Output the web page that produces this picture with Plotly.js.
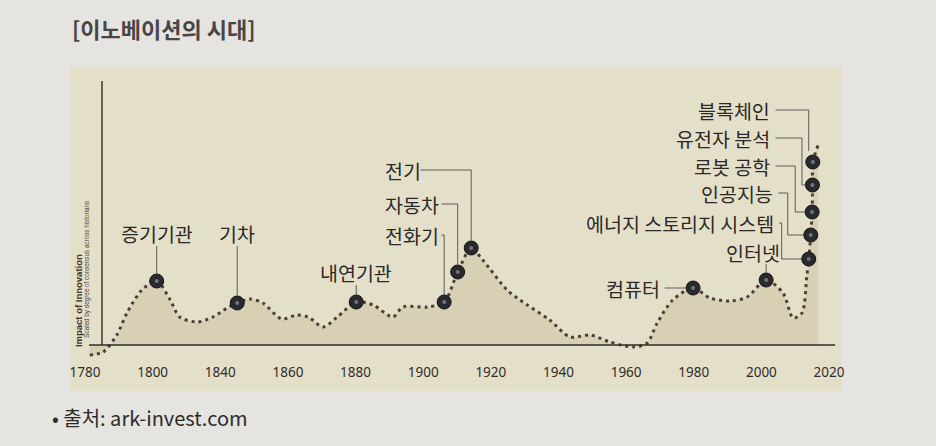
<!DOCTYPE html>
<html>
<head>
<meta charset="utf-8">
<script src="https://cdn.plot.ly/plotly-3.0.1.min.js"></script>
<style>html,body{margin:0;padding:0;background:#e5e4e0;}#chart{width:936px;height:446px;}</style>
</head>
<body>
<div id="chart"></div>
<script>
// Tick labels (evenly spaced as printed)
const tickLabels = ['1780','1800','1840','1860','1880','1900','1920','1940','1960','1980','2000','2020'];
const tickPositions = tickLabels.map((_, i) => i);

// Impact-of-innovation curve (x in tick-slot units, y in relative impact)
const curveX = [0.07,0.27,0.47,0.62,0.84,1.06,1.26,1.40,1.66,1.89,2.10,2.25,2.44,2.63,2.91,3.13,3.30,3.52,3.73,4.01,4.26,4.55,4.70,5.06,5.31,5.51,5.71,5.88,6.24,6.43,6.87,7.17,7.47,7.76,8.10,8.31,8.46,8.69,8.99,9.24,9.54,9.79,10.07,10.32,10.47,10.60,10.67,10.70,10.73,10.75,10.755,10.76,10.84];
const curveY = [-10,-7,10,32,55,64,45,28,23,28,37,42,46,42,26,30,28,18,28,43,40,28,38,38,43,73,97,85,55,45,25,8,10,3,-2,2,22,45,57,47,44,48,65,52,27,32,68,86,110,133,160,183,200];

// Innovations marked on the curve
const innovations = ['증기기관','기차','내연기관','전화기','자동차','전기','컴퓨터','인터넷','에너지 스토리지 시스템','인공지능','로봇 공학','유전자 분석','블록체인'];
const innoX = [1.06,2.25,4.01,5.31,5.51,5.71,8.99,10.07,10.70,10.73,10.75,10.755,10.76];
const innoY = [64,42,43,43,73,97,57,65,86,110,133,160,183];

// label placement (layout only)
const labelLayout = [
  {mode:'above', ty:112, top:99},
  {mode:'above', ty:112, top:99},
  {mode:'above', ty:73, top:60},
  {mode:'elbowL', tx:4.406, ty:110, lx:5.27},
  {mode:'elbowL', tx:4.406, ty:141, lx:5.27},
  {mode:'elbowL', tx:4.406, ty:175, lx:4.96},
  {mode:'left', tx:8.53, ty:57},
  {mode:'aboveR', tx:10.30, ty:93, top:81},
  {mode:'elbowR', tx:10.21, ty:122, vx:10.30},
  {mode:'elbowR', tx:10.20, ty:152, vx:10.39},
  {mode:'elbowR', tx:10.16, ty:179, vx:10.50},
  {mode:'elbowR', tx:10.16, ty:207, vx:10.60},
  {mode:'elbowR', tx:10.16, ty:235, vx:10.70}
];

const lineCol = '#5f5b58';
const textFont = {family:'Noto Sans CJK KR, Noto Sans, sans-serif', size:19.5, color:'#2b2928'};
const annotations = [];
const shapes = [];

// panel background
shapes.push({type:'rect', xref:'paper', yref:'paper', x0:0.0125, x1:0.9775, y0:-0.11, y1:0.9765, fillcolor:'#e4dfc8', line:{width:0}, layer:'below'});
// axes lines
shapes.push({type:'line', xref:'x', yref:'y', x0:0.059, x1:11.09, y0:0, y1:0, line:{color:'#2f2d2b', width:1.6}});
shapes.push({type:'line', xref:'x', yref:'y', x0:0.251, x1:0.251, y0:0, y1:264, line:{color:'#2f2d2b', width:1.4}});

const mr = 7; // marker radius in y-units (px)
const mrx = 7/67.64;
innovations.forEach((name, i) => {
  const L = labelLayout[i];
  const x = innoX[i], y = innoY[i];
  if (L.mode === 'above') {
    annotations.push({x:x, y:L.ty, text:name, showarrow:false, xanchor:'center', yanchor:'middle', font:textFont});
    shapes.push({type:'line', x0:x, x1:x, y0:L.top, y1:y+mr, line:{color:lineCol, width:1}});
  } else if (L.mode === 'aboveR') {
    annotations.push({x:L.tx, y:L.ty, text:name, showarrow:false, xanchor:'right', yanchor:'middle', font:textFont});
    shapes.push({type:'line', x0:x, x1:x, y0:L.top, y1:y+mr, line:{color:lineCol, width:1}});
  } else if (L.mode === 'elbowL') {
    annotations.push({x:L.tx, y:L.ty, text:name, showarrow:false, xanchor:'left', yanchor:'middle', font:textFont});
    shapes.push({type:'path', path:`M ${L.lx},${L.ty} L ${x},${L.ty} L ${x},${y+mr}`, line:{color:lineCol, width:1}});
  } else if (L.mode === 'left') {
    annotations.push({x:L.tx, y:L.ty, text:name, showarrow:false, xanchor:'right', yanchor:'middle', font:textFont});
    shapes.push({type:'line', x0:L.tx+0.04, x1:x-mrx, y0:y, y1:y, line:{color:lineCol, width:1}});
  } else if (L.mode === 'elbowR') {
    annotations.push({x:L.tx, y:L.ty, text:name, showarrow:false, xanchor:'right', yanchor:'middle', font:textFont});
    const sx = L.tx + 0.05;
    if (i === innovations.length - 1) {
      shapes.push({type:'path', path:`M ${sx},${L.ty} L ${L.vx},${L.ty} L ${L.vx},${y+mr+4}`, line:{color:lineCol, width:1}});
    } else {
      shapes.push({type:'path', path:`M ${sx},${L.ty} L ${L.vx},${L.ty} L ${L.vx},${y} L ${x-mrx},${y}`, line:{color:lineCol, width:1}});
    }
  }
});

// source and axis captions
annotations.push({xref:'paper', yref:'paper', x:-0.0125, y:-0.198, xanchor:'left', yanchor:'middle', showarrow:false, text:'• 출처: ark-invest.com', font:{family:'Noto Sans CJK KR, sans-serif', size:20, color:'#2d2b2a'}});
annotations.push({xref:'paper', yref:'paper', x:0.0225, y:0.191, xanchor:'center', yanchor:'middle', showarrow:false, textangle:-90, text:'<b>Impact of Innovation</b>', font:{family:'Liberation Sans, sans-serif', size:9.5, color:'#3a3633'}});
annotations.push({xref:'paper', yref:'paper', x:0.0335, y:0.299, xanchor:'center', yanchor:'middle', showarrow:false, textangle:-90, text:'Scaled by degree of consensus across historians', font:{family:'Liberation Sans, sans-serif', size:6.3, color:'#4a4643'}});

const traces = [
  {x:curveX, y:curveY, mode:'lines', line:{shape:'spline', smoothing:0.8, color:'#4a3f36', width:3, dash:'3px,4px'}, fill:'tozeroy', fillcolor:'rgba(168,156,112,0.22)', hoverinfo:'skip'},
  {x:innoX, y:innoY, mode:'markers', marker:{size:14, color:'#2a2a2c', line:{color:'#141414', width:1}}, cliponaxis:false, hoverinfo:'skip'},
  {x:innoX, y:innoY, mode:'markers', marker:{size:4, color:'#6d7580'}, cliponaxis:false, hoverinfo:'skip'}
];

const layout = {
  width:936, height:446,
  margin:{l:60, r:76, t:60, b:88},
  paper_bgcolor:'#e5e4e0', plot_bgcolor:'rgba(0,0,0,0)',
  showlegend:false,
  title:{text:'[이노베이션의 시대]', xref:'container', yref:'container', x:72/936, xanchor:'left', y:1-30/446, yanchor:'middle', font:{family:'Noto Sans CJK KR, sans-serif', size:22, color:'#4a4646', weight:'bold'}},
  xaxis:{range:[-0.3696, 11.458], tickvals:tickPositions, ticktext:tickLabels, showgrid:false, zeroline:false, showline:false, ticks:'outside', ticklen:2, tickcolor:'rgba(0,0,0,0)', tickfont:{family:'Noto Sans, sans-serif', size:13.5, color:'#2f2d2b'}, fixedrange:true},
  yaxis:{range:[-13, 285], visible:false, fixedrange:true},
  shapes:shapes, annotations:annotations
};

Plotly.newPlot('chart', traces, layout, {displayModeBar:false, staticPlot:true});
</script>
</body>
</html>
